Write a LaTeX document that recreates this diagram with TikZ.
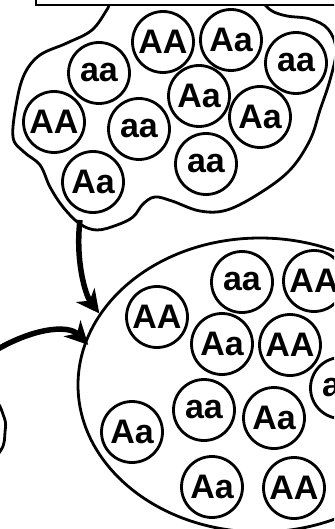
\documentclass[tikz,border=0pt]{standalone}
\usepackage{fontspec}
\setmainfont{Liberation Sans}
\usetikzlibrary{shapes.geometric, arrows.meta, positioning}

\begin{document}
\begin{tikzpicture}[x=1pt, y=-1pt,
  geno/.style={draw, circle, line width=2.8pt, minimum size=61pt, inner sep=0pt, font=\fontsize{34}{34}\selectfont\bfseries},
  popline/.style={line width=2.8pt, line join=round},
  migrate/.style={line width=5.5pt, -{Stealth[length=23pt, width=23pt, inset=7pt]}}]
  \useasboundingbox (0,0) rectangle (334,529);
  \clip (0,0) rectangle (334,529);

  % Source population (top)
  \draw[popline] plot[smooth cycle, tension=0.6] coordinates {
    (120,-12) (108,8) (92,30) (67,43) (40,55) (25,73) (17,100) (13,137)
    (24,152) (40,165) (50,187) (63,207) (80,224) (97,230) (117,225) (133,217)
    (143,204) (155,197) (172,201) (200,211) (227,210) (260,193) (290,170)
    (310,140) (320,110) (330,80) (336,50) (328,29) (310,19) (287,16)
    (272,11) (262,2) (245,-12)};
  \coordinate (pop1out) at (80,220);

  % Second source (left, cut off)
  \draw[popline] plot[smooth cycle, tension=0.6] coordinates {
    (-60,380) (-10,396) (4,417) (5,432) (1,450) (-20,470) (-60,470)};
  \coordinate (pop3out) at (-12,355);

  % Receiving population
  \node[draw, ellipse, line width=2.8pt, minimum width=364pt, minimum height=294pt, inner sep=0pt] (pop2) at (260,385) {};

  % Genotypes, top
  \node[geno] (t1) at (163,42) {AA};
  \node[geno] (t2) at (231,40) {Aa};
  \node[geno] (t3) at (99,73) {aa};
  \node[geno] (t4) at (296,63) {aa};
  \node[geno] (t5) at (199,96) {Aa};
  \node[geno] (t6) at (54,122) {AA};
  \node[geno] (t7) at (139,129) {aa};
  \node[geno] (t8) at (260,117) {Aa};
  \node[geno] (t9) at (206,164) {aa};
  \node[geno] (t10) at (93,182) {Aa};

  % Genotypes, bottom
  \node[geno] (b1) at (157,317) {AA};
  \node[geno] (b2) at (242,282) {aa};
  \node[geno] (b3) at (314,281) {AA};
  \node[geno] (b4) at (222,344) {Aa};
  \node[geno] (b5) at (290,345) {AA};
  \node[geno] (b6) at (341,388) {aa};
  \node[geno] (b7) at (132,432) {Aa};
  \node[geno] (b8) at (204,410) {aa};
  \node[geno] (b9) at (274,418) {Aa};
  \node[geno] (b10) at (212,487) {Aa};
  \node[geno] (b11) at (294,488) {AA};

  % Migration arrows
  \draw[migrate] (pop1out) .. controls (75,262) and (86,296) .. (pop2.156);
  \draw[migrate, shorten >=-5pt] (pop3out) .. controls (30,328) and (68,324) .. (pop2.166);

  % Title box (text above the crop)
  \node[draw, fill=white, line width=2.4pt, minimum width=334pt, minimum height=45pt] (title) at (203,-17.5) {};
\end{tikzpicture}
\end{document}
